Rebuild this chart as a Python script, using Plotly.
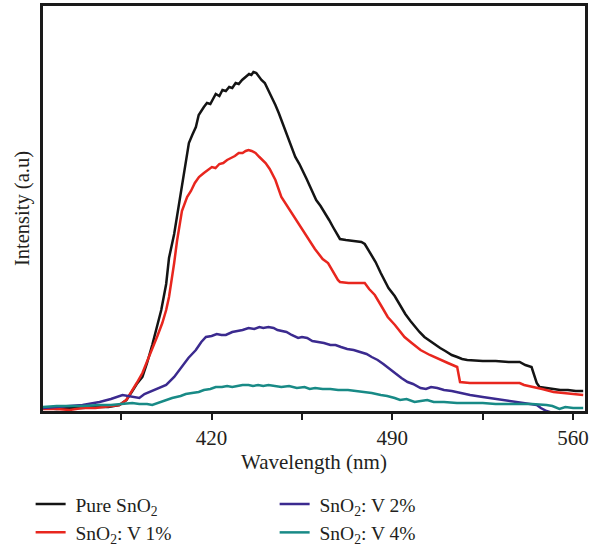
import plotly.graph_objects as go

# Photoluminescence spectra of pure and V-doped SnO2
wl_pure = [354.7, 360, 365, 370, 375, 380, 384.3, 387, 389.3, 391, 393.2, 395, 397.0, 398.8, 400.5,
           402.4, 403.5, 405.5, 407.4, 409.3, 411.2, 412.5, 413.9, 415.0, 415.9, 417.0, 418.2, 419.5,
           421.6, 423.0, 424.2, 425.5, 426.8, 428.0, 429.3, 430.5, 431.8, 433.2, 434.5, 435.4, 436.2,
           437.3, 438.2, 439.3, 440.6, 442.0, 443.4, 444.7, 446.0, 447.0, 448.4, 449.7, 451.0, 452.4,
           454.0, 455.5, 456.8, 458.2, 459.4, 460.5, 462.2, 464.0, 465.5, 467.0, 468.3, 469.7, 472,
           475, 478, 479.3, 480.5, 481.6, 483.5, 485.5, 487, 488.5, 490.9, 493, 495, 497.0, 499, 500.5,
           502.4, 504.5, 506.5, 508.5, 510.5, 513, 515.1, 517, 519.0, 525, 530, 535, 539.3, 541.5,
           543.9, 545.0, 545.9, 547.0, 549, 551, 552.4, 555, 558, 561, 563.9]
int_pure = [3, 2, 3, 3, 4, 4, 6, 11, 20, 27, 34, 48, 66, 84, 101,
            127, 153, 177, 207, 240, 268, 276, 284, 296, 300, 304, 308, 307,
            317, 315, 321, 320, 324, 323, 328, 327, 331, 334, 337, 336, 339,
            338, 335, 331, 328, 321, 314, 306, 298, 291, 282, 271, 263, 254,
            247, 238, 232, 224, 218, 211, 205, 198, 191, 184, 178, 172, 171,
            170, 169, 167, 162, 158, 149, 138, 131, 123, 115, 106, 97, 90, 83, 79,
            74, 70, 66, 63, 60, 56, 54, 52, 51, 50, 50, 49, 49, 46,
            44, 36, 28, 24, 23, 22, 22, 21, 21, 20, 20]

wl_v1 = [354.7, 360, 365, 370, 375, 380, 384.3, 387, 389.3, 391, 393.2, 395, 397, 399, 400.9,
         402.4, 403.5, 404.5, 405.5, 406.6, 408.5, 410.5, 412, 413.5, 415.1, 417, 418.5, 420.1,
         421.5, 423, 424.5, 426, 427.5, 429, 430.5, 432, 433.2, 434.3, 435.5, 437.0, 438.5, 440.9,
         442.5, 444.7, 447.0, 449, 450.9, 452.8, 454.7, 456.6, 458.5, 460, 461.2, 463, 465.1, 467,
         468.9, 469.7, 473, 476, 479.3, 481, 483.2, 485.5, 488.2, 491, 494.7, 497.5, 500.9, 504.5,
         508.5, 511.5, 515.1, 516.2, 520, 526.6, 533, 539.3, 541, 544.7, 548, 552.4, 556, 560, 563.9]
int_v1 = [2, 2, 1, 3, 3, 5, 6, 11, 20, 28, 38, 49, 61, 75, 88,
          101, 114, 130, 148, 170, 200, 214, 220, 228, 234, 238, 241, 244,
          243, 247, 248, 251, 253, 255, 258, 258, 260, 261, 260, 258, 254, 248,
          242, 231, 214, 206, 198, 190, 183, 176, 168, 162, 158, 152, 148, 139,
          131, 129, 128, 128, 128, 122, 116, 106, 94, 86, 74, 68, 61, 56,
          51, 48, 44, 29, 28, 28, 28, 28, 26, 24, 22, 19, 18, 17, 16]

wl_v2 = [354.7, 360, 365.1, 370, 376.6, 381, 385.5, 387.5, 389.3, 392.0, 394, 395.9, 399, 402.4,
         405.5, 408.5, 411, 413.9, 416, 417.8, 420, 422, 423.8, 425.5, 428, 430, 432, 434.3, 436.5,
         438.5, 440, 442.0, 444, 445.5, 447.0, 449, 451, 453.5, 455, 457, 459, 461.2, 463.5, 466,
         468, 470.1, 472.5, 475, 477.8, 480, 482, 484.3, 486.5, 489.3, 491.5, 493.5, 495.9, 498,
         500.9, 503, 505, 507.4, 510, 513, 516, 520.1, 525, 530, 533.2, 538, 542, 545.9, 547.5,
         549.7, 553.5, 563.9]
int_v2 = [3, 4, 5, 6, 9, 12, 16, 15, 14, 13, 17, 19, 22, 26,
          34, 44, 53, 61, 69, 74, 75, 77, 76, 76, 79, 80, 81, 83, 82,
          84, 83, 84, 83, 81, 80, 79, 76, 73, 74, 73, 70, 69, 68, 66,
          66, 64, 62, 61, 59, 57, 54, 51, 47, 41, 37, 33, 29, 27,
          23, 22, 24, 23, 21, 20, 18, 16, 14, 12, 11, 9, 7, 6, 3,
          0, -3, -3]

wl_v4 = [354.7, 360, 365, 370, 376.6, 381, 385, 389.3, 392, 395, 397.0, 399, 401.5, 404.7, 408,
         410, 412.4, 415, 417, 419.5, 421.6, 424, 426, 428, 430, 432, 434.3, 436, 438, 440, 442,
         444.5, 447.0, 450, 453, 456, 458, 460.1, 463, 466, 469, 472.8, 476, 479, 482, 485.5, 488,
         490.9, 493, 495.5, 498.6, 501, 503.5, 506, 510, 515, 520.1, 525, 530, 535, 539.3, 544,
         549.7, 552, 554.7, 557, 560, 563.9]
int_v4 = [4, 5, 5, 5, 6, 6, 7, 8, 7, 7, 6, 8, 10, 13, 15,
          17, 18, 19, 21, 22, 24, 24, 25, 24, 25, 26, 26, 25, 26, 25, 26,
          25, 24, 25, 23, 24, 22, 23, 22, 22, 21, 21, 20, 19, 18, 16, 15,
          13, 11, 12, 9, 10, 11, 9, 9, 8, 8, 8, 7, 7, 7, 7,
          6, 5, 2, 4, 3, 3]

x_tick_vals = [385, 420, 455, 490, 525, 560]
x_tick_text = ["", "420", "", "490", "", "560"]

# legend labels are padded with a no-break space to widen the gap after the swatch
PAD = "\u00a0"
series = [
    (PAD + "Pure SnO<sub>2</sub>", wl_pure, int_pure, "#141414", 1),
    (PAD + "SnO<sub>2</sub>: V 1%", wl_v1, int_v1, "#e8261e", 3),
    (PAD + "SnO<sub>2</sub>: V 2%", wl_v2, int_v2, "#3b2a8f", 2),
    (PAD + "SnO<sub>2</sub>: V 4%", wl_v4, int_v4, "#188a86", 4),
]

FONT = "Liberation Serif, Times New Roman, serif"
INK = "#231f20"

fig = go.Figure()
for name, xs, ys, color, rank in series:
    fig.add_trace(go.Scatter(
        x=xs, y=ys, mode="lines", name=name, legendrank=rank,
        line=dict(color=color, width=2.5),
    ))

fig.update_layout(
    width=589, height=546,
    margin=dict(l=43, r=1, t=6, b=135),
    paper_bgcolor="white", plot_bgcolor="white",
    font=dict(family=FONT, color=INK, size=20),
    showlegend=True,
    legend=dict(
        orientation="h", xref="container", yref="container",
        x=0.052, y=0.112, xanchor="left", yanchor="top",
        entrywidth=199, entrywidthmode="pixels",
        font=dict(family=FONT, size=19.5, color=INK),
        tracegroupgap=0, itemwidth=30,
    ),
)

fig.update_xaxes(
    range=[354.7, 564.6], showgrid=False, zeroline=False,
    showline=True, linecolor="#1a1a1a", linewidth=2.5, mirror=True,
    ticks="outside", ticklen=6, tickwidth=2, tickcolor="#1a1a1a",
    tickvals=x_tick_vals, ticktext=x_tick_text,
    tickfont=dict(family=FONT, size=21, color=INK),
    title=dict(text="Wavelength (nm)", font=dict(family=FONT, size=21, color=INK), standoff=6),
)
fig.update_yaxes(
    range=[0, 405], showgrid=False, zeroline=False,
    showline=True, linecolor="#1a1a1a", linewidth=2.5, mirror=True,
    ticks="", showticklabels=False,
    title=dict(text="Intensity (a.u)", font=dict(family=FONT, size=20.5, color=INK), standoff=6),
)

fig.write_html("out.html")
